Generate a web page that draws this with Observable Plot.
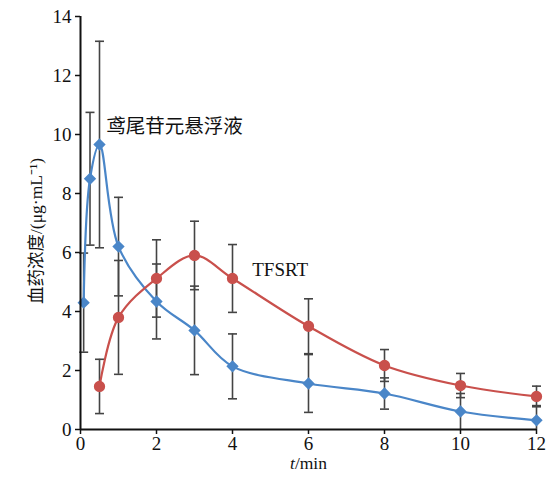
<!DOCTYPE html>
<html><head><meta charset="utf-8">
<script src="https://cdn.jsdelivr.net/npm/d3@7"></script>
<script src="https://cdn.jsdelivr.net/npm/@observablehq/plot@0.6"></script>
<style>
body{margin:0;background:#fff}
#chart svg{display:block}
</style>
</head><body><div id="chart"></div>
<script>
// data
const suspTimes = [0.083, 0.25, 0.5, 1, 2, 3, 4, 6, 8, 10, 12];
const suspMean  = [4.30, 8.50, 9.66, 6.20, 4.34, 3.36, 2.14, 1.56, 1.22, 0.61, 0.31];
const suspSD    = [1.68, 2.25, 3.50, 1.67, 1.27, 1.50, 1.10, 0.98, 0.53, 0.61, 0.50];
const tfsrtTimes = [0.5, 1, 2, 3, 4, 6, 8, 10, 12];
const tfsrtMean  = [1.46, 3.80, 5.12, 5.90, 5.12, 3.50, 2.17, 1.49, 1.12];
const tfsrtSD    = [0.92, 1.93, 1.31, 1.16, 1.15, 0.93, 0.54, 0.41, 0.35];
const xTicks = [0, 2, 4, 6, 8, 10, 12];
const yTicks = [0, 2, 4, 6, 8, 10, 12, 14];
const seriesNames = ["鸢尾苷元悬浮液", "TFSRT"];
const labelT = [0.68, 4.52];
const labelC = [10.26, 5.4];
const xLabel = "t/min";
const yLabel = "血药浓度/(μg·mL⁻¹)";

const BLUE = "#4a86c8", RED = "#c9504c", BAR = "#444444";
const FONT = "'Liberation Serif', 'Noto Sans CJK SC', serif";

const susp = suspTimes.map((t, i) => ({t, c: suspMean[i], sd: suspSD[i]}));
const tfsrt = tfsrtTimes.map((t, i) => ({t, c: tfsrtMean[i], sd: tfsrtSD[i]}));
const all = [...susp, ...tfsrt].map(d => ({...d, lo: Math.max(0, d.c - d.sd), hi: d.c + d.sd}));
const labels = seriesNames.map((name, i) => ({name, t: labelT[i], c: labelC[i]}));

const capSymbol = {draw(ctx) { ctx.moveTo(-4.5, 0); ctx.lineTo(4.5, 0); }};

const plot = Plot.plot({
  width: 548, height: 484,
  marginLeft: 80, marginRight: 12, marginTop: 16, marginBottom: 55,
  style: {fontSize: "19px", fontFamily: FONT, color: "#111", background: "#fff"},
  x: {domain: [0, 12], ticks: xTicks, label: null, tickSize: 5, tickPadding: 2},
  y: {domain: [0, 14], ticks: yTicks, label: null, tickSize: 5, tickPadding: 4},
  marks: [
    Plot.axisX({ticks: xTicks, tickSize: 5, tickPadding: 2, fontSize: 19, fontFamily: FONT, label: null, strokeWidth: 1.5}),
    Plot.axisY({ticks: yTicks, tickSize: 5, tickPadding: 4, fontSize: 19, fontFamily: FONT, label: null, strokeWidth: 1.5}),
    // error bars
    Plot.ruleX(all, {x: "t", y1: "lo", y2: "hi", stroke: BAR, strokeWidth: 1.6}),
    Plot.dot(all, {x: "t", y: "hi", symbol: capSymbol, stroke: BAR, strokeWidth: 1.6, fill: "none"}),
    Plot.dot(all.filter(d => d.c - d.sd > 0), {x: "t", y: "lo", symbol: capSymbol, stroke: BAR, strokeWidth: 1.6, fill: "none"}),
    // curves
    Plot.line(susp, {x: "t", y: "c", stroke: BLUE, strokeWidth: 2.2, curve: "catmull-rom"}),
    Plot.line(tfsrt, {x: "t", y: "c", stroke: RED, strokeWidth: 2.2, curve: "catmull-rom"}),
    Plot.dot(susp, {x: "t", y: "c", symbol: "diamond2", r: 4.6, fill: BLUE, stroke: BLUE}),
    Plot.dot(tfsrt, {x: "t", y: "c", symbol: "circle", r: 4.9, fill: RED, stroke: RED}),
    // axis lines
    Plot.ruleX([0], {stroke: "#111", strokeWidth: 2}),
    Plot.ruleY([0], {stroke: "#111", strokeWidth: 2}),
    // series labels
    Plot.text(labels.slice(0, 1), {x: "t", y: "c", text: "name", textAnchor: "start", fontSize: 19.5, fontFamily: FONT, fill: "#111"}),
    Plot.text(labels.slice(1), {x: "t", y: "c", text: "name", textAnchor: "start", fontSize: 19, fontFamily: FONT, fill: "#111"}),
    // axis titles
    Plot.text([yLabel], {frameAnchor: "left", dx: -44, dy: 8, rotate: -90, fontSize: 17.5, fontFamily: FONT, fill: "#111", textAnchor: "middle"}),
    Plot.text([xLabel], {frameAnchor: "bottom", dy: 39, fontSize: 17.5, fontFamily: FONT, fill: "#111", textAnchor: "middle"})
  ]
});
document.getElementById("chart").appendChild(plot);
// italic "t" in x title
d3.select(plot).selectAll("text").filter(function(){ return this.textContent === xLabel; }).each(function(){
  const sel = d3.select(this);
  sel.text(null);
  sel.append("tspan").attr("font-style", "italic").text("t");
  sel.append("tspan").text("/min");
});
</script>
</body></html>
